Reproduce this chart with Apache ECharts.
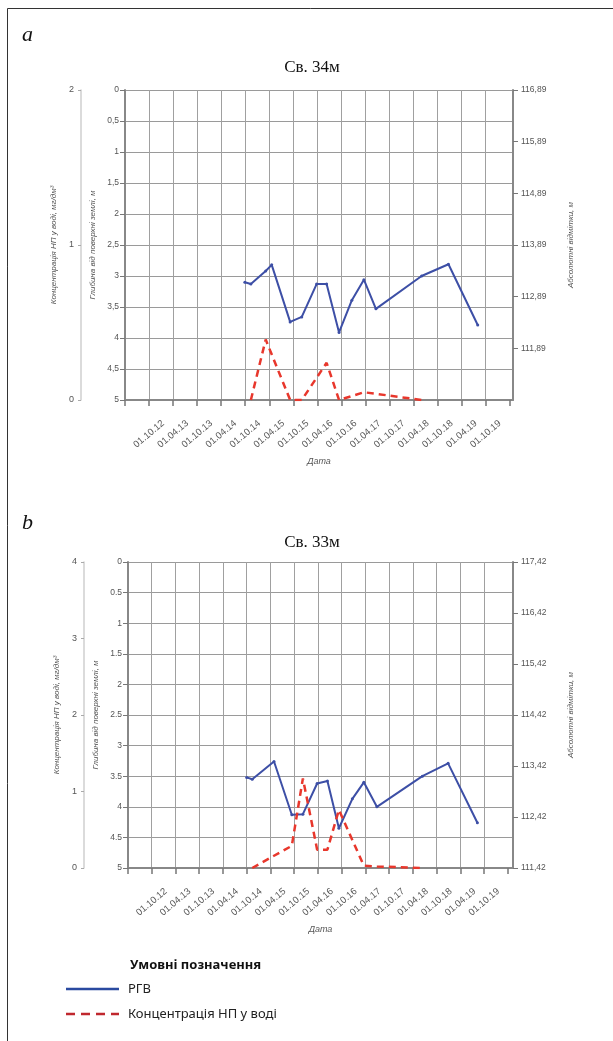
<!DOCTYPE html>
<html>
<head>
<meta charset="utf-8">
<title>Св. 34м / Св. 33м</title>
<script src="https://cdn.jsdelivr.net/npm/echarts@6/dist/echarts.min.js"></script>
<style>
html, body { margin: 0; padding: 0; background: #fff; }
#main { width: 613px; height: 1041px; }
</style>
</head>
<body>
<div id="main"></div>
<script>
// підписи дат (місяці від 01.04.12, крок 6)
var dateLabels = ['01.10.12','01.04.13','01.10.13','01.04.14','01.10.14','01.04.15','01.10.15',
                  '01.04.16','01.10.16','01.04.17','01.10.17','01.04.18','01.10.18','01.04.19','01.10.19'];
var depthLabelsA = ['0','0,5','1','1,5','2','2,5','3','3,5','4','4,5','5'];
var depthLabelsB = ['0','0.5','1','1.5','2','2.5','3','3.5','4','4.5','5'];
var elevBaseA = 110.89;
var elevBaseB = 111.42;

// Св. 34м
var rgvMonthsA = [29.9, 31.4, 35.1, 36.6, 41.2, 44.1, 47.8, 50.3, 53.4, 56.6, 59.6, 62.6, 74.0, 80.7, 88.0];
var rgvDepthA  = [3.10, 3.13, 2.92, 2.82, 3.74, 3.66, 3.13, 3.13, 3.91, 3.39, 3.06, 3.53, 3.00, 2.81, 3.79];
var npMonthsA  = [31.4, 35.1, 41.2, 44.1, 50.3, 53.4, 59.6, 62.6, 74.0];
var npConcA    = [0, 0.39, 0, 0, 0.24, 0, 0.05, 0.04, 0];

// Св. 33м
var rgvMonthsB = [30.0, 31.4, 36.9, 41.4, 44.2, 47.8, 50.4, 53.3, 56.7, 59.6, 62.9, 74.4, 80.9, 88.3];
var rgvDepthB  = [3.52, 3.55, 3.26, 4.13, 4.12, 3.62, 3.58, 4.35, 3.87, 3.60, 4.00, 3.50, 3.29, 4.26];
var npMonthsB  = [31.4, 36.9, 41.4, 44.2, 47.8, 50.4, 53.3, 59.6, 62.9, 74.4];
var npConcB    = [0, 0.16, 0.29, 1.17, 0.24, 0.24, 0.76, 0.03, 0.02, 0];

var chart = echarts.init(document.getElementById('main'));

var blue = '#3d4fa6';
var red = '#e8372c';
var txt = '#555';
var sans = 'Liberation Sans';

// позиції поділок осі дат: 0, 6, ... 96
var monthTicks = [0].concat(dateLabels.map(function (d, i) { return (i + 1) * 6; }), [96]);

function pairs(xs, ys) {
    return xs.map(function (x, i) { return [x, ys[i]]; });
}

function xAxisFor(g, max) {
    return {
        type: 'value', gridIndex: g, min: 0, max: max, interval: 6,
        position: 'bottom',
        name: 'Дата', nameLocation: 'middle', nameGap: 57,
        nameTextStyle: { fontStyle: 'italic', fontSize: 9, color: txt, fontFamily: sans },
        axisLine: { onZero: false, lineStyle: { color: '#888', width: 2 } },
        axisTick: { length: 6, customValues: monthTicks, lineStyle: { color: '#777', width: 1.5 } },
        axisLabel: {
            rotate: 40, align: 'center', verticalAlign: 'middle', margin: 34,
            fontSize: 9.5, color: txt, fontFamily: sans,
            formatter: function (v) {
                var i = Math.round(v / 6) - 1;
                return (Math.abs(v % 6) < 0.01 && dateLabels[i]) ? dateLabels[i] : '';
            }
        },
        splitLine: { showMaxLine: false, lineStyle: { color: '#a0a0a0', width: 1 } }
    };
}

function depthAxis(g, labels) {
    return {
        type: 'value', gridIndex: g, inverse: true, min: 0, max: 5, interval: 0.5,
        position: 'left',
        name: 'Глибина від поверхні землі, м', nameLocation: 'middle', nameGap: 27, nameRotate: 90,
        nameTextStyle: { fontStyle: 'italic', fontSize: 8, color: txt, fontFamily: sans },
        axisLine: { show: true, onZero: false, lineStyle: { color: '#888', width: 2 } },
        axisTick: { show: true, length: 5, lineStyle: { color: '#777' } },
        axisLabel: {
            fontSize: 8.5, color: txt, fontFamily: sans, margin: 6,
            formatter: function (v) { return labels[Math.round(v / 0.5)]; }
        },
        splitLine: { show: true, lineStyle: { color: '#9a9a9a', width: 1 } }
    };
}

function concAxis(g, max) {
    return {
        type: 'value', gridIndex: g, min: 0, max: max, interval: 1,
        position: 'left', offset: 44,
        name: 'Концентрація НП у воді, мг/дм³', nameLocation: 'middle', nameGap: 22, nameRotate: 90,
        nameTextStyle: { fontStyle: 'italic', fontSize: 8, color: txt, fontFamily: sans },
        axisLine: { show: true, onZero: false, lineStyle: { color: '#cfcfcf', width: 1.5 } },
        axisTick: { show: true, length: 3, lineStyle: { color: '#aaa' } },
        axisLabel: { fontSize: 9, color: txt, fontFamily: sans, margin: 7 },
        splitLine: { show: false }
    };
}

function elevAxis(g, base, showMin) {
    return {
        type: 'value', gridIndex: g, min: 0, max: 6, interval: 1,
        position: 'right',
        name: 'Абсолютні відмітки, м', nameLocation: 'middle', nameGap: 54, nameRotate: 90,
        nameTextStyle: { fontStyle: 'italic', fontSize: 8, color: txt, fontFamily: sans },
        axisLine: { show: true, onZero: false, lineStyle: { color: '#888', width: 2 } },
        axisTick: { show: true, length: 5, lineStyle: { color: '#777' } },
        axisLabel: {
            fontSize: 8.5, color: txt, fontFamily: sans, margin: 8, showMinLabel: showMin,
            formatter: function (v) { return (v + base).toFixed(2).replace('.', ','); }
        },
        splitLine: { show: false }
    };
}

function rgvSeries(x, y, data) {
    return {
        type: 'line', xAxisIndex: x, yAxisIndex: y, data: data,
        symbol: 'circle', symbolSize: 3, showSymbol: true,
        itemStyle: { color: blue },
        lineStyle: { color: blue, width: 2 },
        z: 3, animation: false
    };
}

function npSeries(x, y, data) {
    return {
        type: 'line', xAxisIndex: x, yAxisIndex: y, data: data,
        showSymbol: false,
        lineStyle: { color: red, width: 2.5, type: [7, 5] },
        z: 4, animation: false
    };
}

var option = {
    backgroundColor: '#fff',
    animation: false,
    grid: [
        { left: 125, top: 90, width: 388, height: 310 },
        { left: 128, top: 562, width: 385, height: 306 }
    ],
    xAxis: [xAxisFor(0, 96.8), xAxisFor(1, 97.3)],
    yAxis: [
        depthAxis(0, depthLabelsA), concAxis(0, 2), elevAxis(0, elevBaseA, false),
        depthAxis(1, depthLabelsB), concAxis(1, 4), elevAxis(1, elevBaseB, true)
    ],
    series: [
        rgvSeries(0, 0, pairs(rgvMonthsA, rgvDepthA)),
        npSeries(0, 1, pairs(npMonthsA, npConcA)),
        rgvSeries(1, 3, pairs(rgvMonthsB, rgvDepthB)),
        npSeries(1, 4, pairs(npMonthsB, npConcB))
    ],
    graphic: [
        // рамка
        { type: 'rect', shape: { x: 7.5, y: 8.5, width: 700, height: 1100 },
          style: { fill: null, stroke: '#333', lineWidth: 1 }, silent: true },
        { type: 'text', left: 22, top: 24,
          style: { text: 'a', font: 'italic 22px "Liberation Serif"', fill: '#111' } },
        { type: 'text', left: 22, top: 512,
          style: { text: 'b', font: 'italic 22px "Liberation Serif"', fill: '#111' } },
        { type: 'text', x: 312, y: 68,
          style: { text: 'Св. 34м', font: '17px "Liberation Serif"', fill: '#111', align: 'center', verticalAlign: 'middle' } },
        { type: 'text', x: 312, y: 543,
          style: { text: 'Св. 33м', font: '17px "Liberation Serif"', fill: '#111', align: 'center', verticalAlign: 'middle' } },
        // умовні позначення
        { type: 'text', x: 130, y: 965,
          style: { text: 'Умовні позначення', font: 'bold 13px "Noto Sans"', fill: '#111', verticalAlign: 'middle' } },
        { type: 'line', shape: { x1: 66, y1: 989, x2: 119, y2: 989 },
          style: { stroke: '#2a4aa0', lineWidth: 2.5 } },
        { type: 'text', x: 128, y: 989,
          style: { text: 'РГВ', font: '13px "Noto Sans"', fill: '#222', verticalAlign: 'middle' } },
        { type: 'line', shape: { x1: 66, y1: 1014, x2: 119, y2: 1014 },
          style: { stroke: '#c0282e', lineWidth: 2.5, lineDash: [9, 6] } },
        { type: 'text', x: 128, y: 1014,
          style: { text: 'Концентрація НП у воді', font: '13px "Noto Sans"', fill: '#222', verticalAlign: 'middle' } }
    ]
};

chart.setOption(option);
</script>
</body>
</html>
